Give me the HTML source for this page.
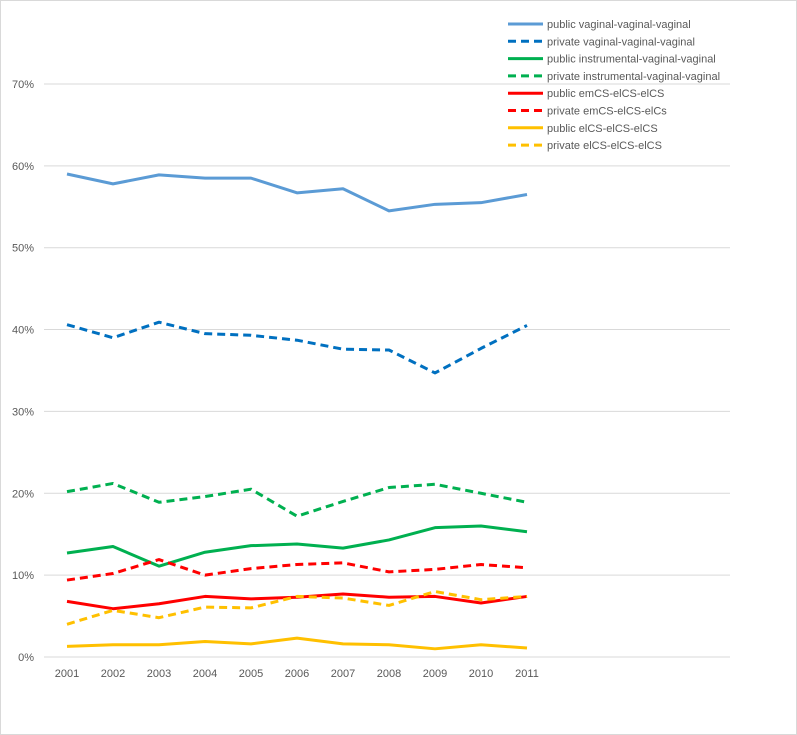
<!DOCTYPE html>
<html><head><meta charset="utf-8"><style>
body{margin:0;background:#fff}
svg{display:block;font-family:"Liberation Sans",sans-serif}
</style></head><body>
<svg id="chart" width="797" height="735" xmlns="http://www.w3.org/2000/svg">
<rect x="0.5" y="0.5" width="796" height="734" fill="#fff" stroke="#d9d9d9"/>
<g id="grid"></g><g id="ylab"></g><g id="xlab"></g><g id="lines"></g><g id="legend"></g>
</svg>
<script>
const years=[2001,2002,2003,2004,2005,2006,2007,2008,2009,2010,2011];
const yTicks=[0,10,20,30,40,50,60,70];
const seriesNames=["public vaginal-vaginal-vaginal","private vaginal-vaginal-vaginal","public instrumental-vaginal-vaginal","private instrumental-vaginal-vaginal","public emCS-elCS-elCS","private emCS-elCS-elCs","public elCS-elCS-elCS","private elCS-elCS-elCS"];
const pubVag=[59.0,57.8,58.9,58.5,58.5,56.7,57.2,54.5,55.3,55.5,56.5];
const privVag=[40.6,39.0,40.9,39.5,39.3,38.7,37.6,37.5,34.7,37.7,40.5];
const pubInstr=[12.7,13.5,11.1,12.8,13.6,13.8,13.3,14.3,15.8,16.0,15.3];
const privInstr=[20.2,21.2,18.9,19.6,20.5,17.2,19.0,20.7,21.1,20.0,18.9];
const pubEm=[6.8,5.9,6.5,7.4,7.1,7.3,7.7,7.3,7.4,6.6,7.4];
const privEm=[9.4,10.2,11.9,10.0,10.8,11.3,11.5,10.4,10.7,11.3,10.9];
const pubEl=[1.3,1.5,1.5,1.9,1.6,2.3,1.6,1.5,1.0,1.5,1.1];
const privEl=[4.0,5.7,4.8,6.1,6.0,7.4,7.2,6.3,8.0,7.0,7.4];
const seriesData=[pubVag,privVag,pubInstr,privInstr,pubEm,privEm,pubEl,privEl];
const colors=["#5B9BD5","#0070C0","#00B050","#00B050","#FF0000","#FF0000","#FFC000","#FFC000"];
const NS="http://www.w3.org/2000/svg";
const x=i=>67+i*46, y=v=>657-v*8.186;
function mk(t,a,p){const e=document.createElementNS(NS,t);for(const k in a)e.setAttribute(k,a[k]);p.appendChild(e);return e;}
const g=document.getElementById('grid'),yl=document.getElementById('ylab'),xl=document.getElementById('xlab'),ln=document.getElementById('lines'),lg=document.getElementById('legend');
yTicks.forEach(t=>{
 const l=mk('line',{x1:44,x2:730,y1:y(t),y2:y(t),stroke:'#d9d9d9','stroke-width':1},g);
 
 
 const tx=mk('text',{x:34,y:y(t)+4,'text-anchor':'end','font-size':11,fill:'#595959'},yl);tx.textContent=t+'%';
 
 
});
years.forEach((yr,i)=>{
 const tx=mk('text',{x:x(i),y:677,'text-anchor':'middle','font-size':11,fill:'#595959'},xl);tx.textContent=yr;
 
 
});
seriesData.forEach((d,s)=>{
 const dash=s%2===1?'8,5':'none';
 const p=mk('polyline',{points:d.map((v,i)=>x(i)+','+y(v)).join(' '),fill:'none',stroke:colors[s],'stroke-width':3,'stroke-dasharray':dash,'stroke-linejoin':'round'},ln);
 
 
 const ly=24+s*17.3;
 const ll=mk('line',{x1:508,x2:543,y1:ly,y2:ly,stroke:colors[s],'stroke-width':3,'stroke-dasharray':dash},lg);
 
 
 const lt=mk('text',{x:547,y:ly+4,'font-size':11,fill:'#595959'},lg);lt.textContent=seriesNames[s];
 
 
});
</script>
</body></html>
